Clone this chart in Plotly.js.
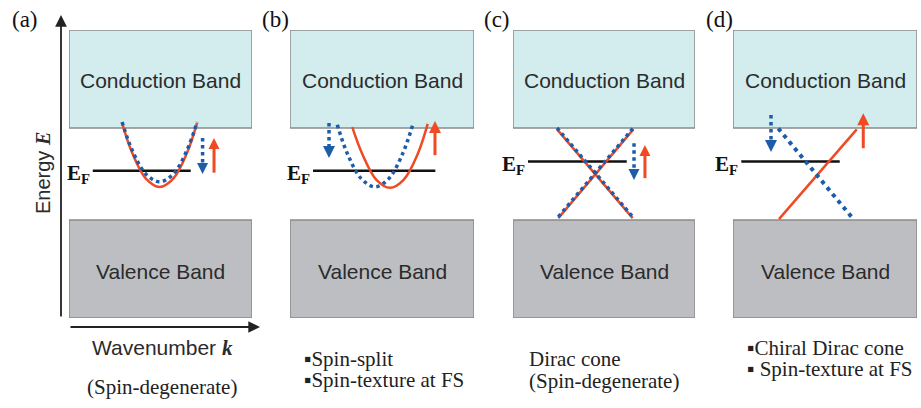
<!DOCTYPE html>
<html><head><meta charset="utf-8">
<script src="https://cdn.plot.ly/plotly-3.0.1.min.js"></script>
<style>html,body{margin:0;padding:0;background:#fff}#chart{width:921px;height:408px}</style>
</head><body><div id="chart"></div>
<script>
// ---------------- data (k in panel units, E in energy units) ----------------
const panelLabels = ['(a)', '(b)', '(c)', '(d)'];
const conductionLabel = 'Conduction Band';
const valenceLabel = 'Valence Band';
const conductionEdge = 1.0;
const valenceEdge = -1.0;
const bandOuter = 3.13;
const conductionLabelE = 2.04;
const valenceLabelE = -2.13;

const fermiE = [0.07, 0.07, 0.27, 0.27];
const fermiKStart = [-0.74, -0.75, -0.835, -0.91];
const fermiKEnd = [0.33, 0.58, 0.25, 0.16];

// (a) spin-degenerate parabola
const kA = [-0.42, -0.31, -0.16, -0.01, 0.14, 0.29, 0.40];
const eUpA = [1.11, 0.46, -0.10, -0.28, -0.10, 0.46, 1.11];
const eDownA = [1.13, 0.52, 0.00, -0.17, 0.00, 0.52, 1.13];
// (b) spin-split parabolas
const kUpB = [-0.323, -0.213, -0.063, 0.087, 0.237, 0.387, 0.497];
const eUpB = [1.02, 0.43, -0.12, -0.30, -0.12, 0.43, 1.09];
const kDownB = [-0.486, -0.376, -0.226, -0.076, 0.074, 0.224, 0.334];
const eDownB = [1.07, 0.44, -0.10, -0.28, -0.10, 0.44, 1.07];
// (c) Dirac cone, spin-degenerate
const kC1 = [-0.516, 0.315];
const eC1 = [0.97, -0.96];
const kC2 = [-0.502, 0.322];
const eC2 = [-0.96, 0.97];
// (d) chiral Dirac cone
const kUpD = [-0.50, 0.345];
const eUpD = [-0.98, 0.97];
const kDownD = [-0.508, 0.308];
const eDownD = [0.99, -0.98];

// spin arrows per panel
const upArrowK = [0.585, 0.576, 0.45, 0.416];
const upArrowFrom = [0.03, 0.41, -0.09, 0.56];
const upArrowTo = [0.78, 1.15, 0.63, 1.32];
const downArrowK = [0.46, -0.576, 0.33, -0.587];
const downArrowFrom = [0.78, 1.11, 0.67, 1.28];
const downArrowTo = [0.00, 0.35, -0.13, 0.48];

const captionsA = ['(Spin-degenerate)'];
const captionsB = ['\u25AASpin-split', '\u25AASpin-texture at FS'];
const captionsC = ['Dirac cone', '(Spin-degenerate)'];
const captionsD = ['\u25AAChiral Dirac cone', '\u25AA Spin-texture at FS'];

// ---------------- layout / style ----------------
const W = 921, H = 408;
const panelLeftPx = [69, 290, 513, 733];
const panelRightPx = [252, 474, 695, 917];
const plotTopPx = 30, plotBottomPx = 318;
const kRange = [-1, 1];
const eRange = [-bandOuter, bandOuter];
const ePerPx = (eRange[1] - eRange[0]) / (plotBottomPx - plotTopPx);
const headPx = [11, 12, 11, 12];

const RED = '#ef4a24';
const BLUE = '#1c5ca8';
const CB_FILL = '#d3ecee';
const VB_FILL = '#bdbec1';
const BOX_LINE = '#8a8a8a';
const SERIF = 'Liberation Serif, Times New Roman, serif';
const SANS = 'Liberation Sans, Arial, sans-serif';

function px(x) { return x / W; }
function py(y) { return 1 - y / H; }
function xa(i) { return i === 0 ? 'x' : 'x' + (i + 1); }
function ya(i) { return i === 0 ? 'y' : 'y' + (i + 1); }

const traces = [];
function addLine(i, k, e, color, width, dash, shape) {
  traces.push({type: 'scatter', mode: 'lines', x: k, y: e, xaxis: xa(i), yaxis: ya(i),
    line: {color: color, width: width, dash: dash || 'solid', shape: shape || 'linear', smoothing: 1},
    hoverinfo: 'skip', showlegend: false});
}
function addArrow(i, k, from, to, color, dash, width) {
  const dir = to > from ? 1 : -1;
  const headE = headPx[i] * ePerPx;
  traces.push({type: 'scatter', mode: 'lines', x: [k, k], y: [from, to - dir * headE * 0.85],
    xaxis: xa(i), yaxis: ya(i), line: {color: color, width: width, dash: dash}, hoverinfo: 'skip', showlegend: false});
  traces.push({type: 'scatter', mode: 'markers', x: [k], y: [to], xaxis: xa(i), yaxis: ya(i),
    marker: {symbol: dir > 0 ? 'arrow-up' : 'arrow-down', size: headPx[i], color: color, line: {width: 0}},
    cliponaxis: false, hoverinfo: 'skip', showlegend: false});
}

// Fermi levels
for (let i = 0; i < 4; i++) {
  addLine(i, [fermiKStart[i], fermiKEnd[i]], [fermiE[i], fermiE[i]], '#111', 2.5);
}
// (a)
addLine(0, kA, eUpA, RED, 2.5, 'solid', 'spline');
addLine(0, kA, eDownA, BLUE, 3.5, 'dot', 'spline');
// (b)
addLine(1, kDownB, eDownB, BLUE, 3.5, 'dot', 'spline');
addLine(1, kUpB, eUpB, RED, 2.5, 'solid', 'spline');
// (c)
addLine(2, kC1, eC1, RED, 2.5);
addLine(2, kC2, eC2, RED, 2.5);
addLine(2, kC1, eC1.map(v => v + 0.03), BLUE, 3.5, 'dot');
addLine(2, kC2, eC2.map(v => v + 0.03), BLUE, 3.5, 'dot');
// (d)
addLine(3, kUpD, eUpD, RED, 2.5);
addLine(3, kDownD, eDownD, BLUE, 4, '4px,4.5px');

// spin arrows
for (let i = 0; i < 4; i++) {
  addArrow(i, downArrowK[i], downArrowFrom[i], downArrowTo[i], BLUE, 'dot', 3.5);
  addArrow(i, upArrowK[i], upArrowFrom[i], upArrowTo[i], RED, 'solid', 3);
}

const layout = {
  width: W, height: H,
  margin: {l: 0, r: 0, t: 0, b: 0, pad: 0},
  paper_bgcolor: '#fff', plot_bgcolor: 'rgba(0,0,0,0)',
  showlegend: false,
  shapes: [], annotations: []
};
for (let i = 0; i < 4; i++) {
  const sx = i === 0 ? '' : String(i + 1);
  layout['xaxis' + sx] = {domain: [px(panelLeftPx[i]), px(panelRightPx[i])], range: kRange,
    visible: false, fixedrange: true, anchor: ya(i)};
  layout['yaxis' + sx] = {domain: [py(plotBottomPx), py(plotTopPx)], range: eRange,
    visible: false, fixedrange: true, anchor: xa(i)};
  layout.shapes.push({type: 'rect', xref: xa(i), yref: ya(i), x0: kRange[0], x1: kRange[1],
    y0: conductionEdge, y1: bandOuter, fillcolor: CB_FILL, line: {color: BOX_LINE, width: 1.5}, layer: 'below'});
  layout.shapes.push({type: 'rect', xref: xa(i), yref: ya(i), x0: kRange[0], x1: kRange[1],
    y0: -bandOuter, y1: valenceEdge, fillcolor: VB_FILL, line: {color: BOX_LINE, width: 1.5}, layer: 'below'});
  layout.annotations.push({xref: xa(i), yref: ya(i), x: 0, y: conductionLabelE, text: conductionLabel,
    xanchor: 'center', yanchor: 'middle', showarrow: false, font: {family: SANS, size: 21, color: '#2b2b2b'}});
  layout.annotations.push({xref: xa(i), yref: ya(i), x: 0, y: valenceLabelE, text: valenceLabel,
    xanchor: 'center', yanchor: 'middle', showarrow: false, font: {family: SANS, size: 21, color: '#2b2b2b'}});
  layout.annotations.push({xref: xa(i), yref: ya(i), x: fermiKStart[i], y: fermiE[i], xanchor: 'right', yanchor: 'middle',
    xshift: -1, yshift: -3, text: '<b>E<sub>F</sub></b>', showarrow: false, font: {family: SERIF, size: 21, color: '#111'}});
}

// panel labels
const labelXPx = [25, 275, 497, 719];
panelLabels.forEach((t, i) => layout.annotations.push({xref: 'paper', yref: 'paper', x: px(labelXPx[i]), y: py(19),
  xanchor: 'center', yanchor: 'middle', text: t, showarrow: false, font: {family: SERIF, size: 23, color: '#111'}}));

// axes of panel (a)
layout.annotations.push({xref: 'paper', yref: 'paper', x: px(61), y: py(15), ax: 0, ay: 303, text: '',
  showarrow: true, arrowhead: 2, arrowsize: 1.3, arrowwidth: 1.8, arrowcolor: '#222', standoff: 0});
layout.annotations.push({xref: 'paper', yref: 'paper', x: px(260), y: py(327), ax: -191, ay: 0, text: '',
  showarrow: true, arrowhead: 2, arrowsize: 1.3, arrowwidth: 1.8, arrowcolor: '#222', standoff: 0});
layout.annotations.push({xref: 'paper', yref: 'paper', x: px(43), y: py(173), textangle: -90,
  xanchor: 'center', yanchor: 'middle',
  text: 'Energy <span style="font-family:Liberation Serif;font-weight:bold;font-style:italic">E</span>',
  showarrow: false, font: {family: SANS, size: 20, color: '#2b2b2b'}});
layout.annotations.push({xref: 'paper', yref: 'paper', x: px(162), y: py(348),
  xanchor: 'center', yanchor: 'middle',
  text: 'Wavenumber <span style="font-family:Liberation Serif;font-weight:bold;font-style:italic">k</span>',
  showarrow: false, font: {family: SANS, size: 21, color: '#2b2b2b'}});

// captions
function caption(t, xPx, yPx, anchor) {
  layout.annotations.push({xref: 'paper', yref: 'paper', x: px(xPx), y: py(yPx), xanchor: anchor, yanchor: 'middle',
    text: t, showarrow: false, font: {family: SERIF, size: 21, color: '#222'}});
}
caption(captionsA[0], 162, 387, 'center');
caption(captionsB[0], 302, 359, 'left');
caption(captionsB[1], 302, 380, 'left');
caption(captionsC[0], 527, 359, 'left');
caption(captionsC[1], 527, 381, 'left');
caption(captionsD[0], 745, 348, 'left');
caption(captionsD[1], 745, 369, 'left');

Plotly.newPlot('chart', traces, layout, {staticPlot: true, displayModeBar: false});
</script></body></html>
